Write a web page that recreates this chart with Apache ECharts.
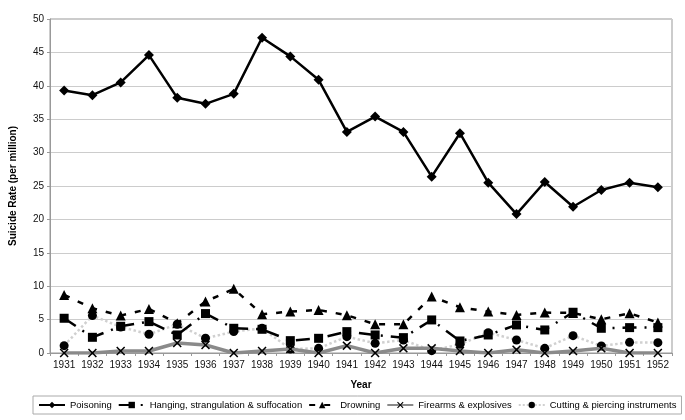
<!DOCTYPE html>
<html>
<head>
<meta charset="utf-8">
<script src="https://cdn.jsdelivr.net/npm/echarts@6/dist/echarts.min.js"></script>
<style>html,body{margin:0;padding:0;background:#fff;}#c{width:685px;height:420px;}</style>
</head>
<body>
<div id="c"></div>
<script>
const years = ['1931','1932','1933','1934','1935','1936','1937','1938','1939','1940','1941','1942','1943','1944','1945','1946','1947','1948','1949','1950','1951','1952'];
const poisoning = [39.3,38.6,40.5,44.6,38.2,37.3,38.8,47.2,44.4,40.9,33.1,35.4,33.1,26.4,32.9,25.5,20.8,25.6,21.9,24.4,25.5,24.8];
const hanging = [5.2,2.35,4.0,4.7,2.7,5.9,3.7,3.55,1.85,2.2,3.2,2.7,2.3,4.95,1.8,2.7,4.2,3.45,6.1,3.7,3.8,3.8];
const drowning = [8.7,6.7,5.6,6.6,4.45,7.7,9.6,5.8,6.2,6.45,5.65,4.3,4.3,8.45,6.85,6.2,5.7,6.05,6.0,5.05,5.95,4.55];
const firearms = [0,0,0.3,0.3,1.5,1.2,0,0.3,0.6,0,1.1,0,0.7,0.7,0.3,0,0.5,0,0.3,0.7,0,0];
const cutting = [1.1,5.6,3.9,2.8,4.3,2.2,3.2,3.7,0.6,0.7,2.45,1.45,1.95,0.35,1.3,3.05,1.95,0.7,2.6,1.05,1.6,1.55];
const seriesNames = ['Poisoning','Hanging, strangulation & suffocation','Drowning','Firearms & explosives','Cutting & piercing instruments'];
const yTicks = {min:0, max:50, interval:5};

const xSym = 'path://M0,1.2 L1.2,0 L5,3.8 L8.8,0 L10,1.2 L6.2,5 L10,8.8 L8.8,10 L5,6.2 L1.2,10 L0,8.8 L3.8,5 Z';
const font = 'Liberation Sans, Arial, sans-serif';

const chart = echarts.init(document.getElementById('c'));
chart.setOption({
  animation: false,
  backgroundColor: '#fff',
  textStyle: {fontFamily: font},
  grid: {left: 46, right: 13, top: 19, bottom: 67, show: true, borderColor: '#999', borderWidth: 1},
  xAxis: {
    type: 'category', data: years, boundaryGap: true,
    name: 'Year', nameLocation: 'middle', nameGap: 27,
    nameTextStyle: {fontFamily: font, fontSize: 10, fontWeight: 'bold', color: '#000'},
    axisLine: {lineStyle: {color: '#999'}},
    axisTick: {show: true, length: 3, lineStyle: {color: '#999'}},
    axisLabel: {fontFamily: font, fontSize: 10, color: '#111', margin: 7, interval: 0}
  },
  yAxis: {
    type: 'value', min: yTicks.min, max: yTicks.max, interval: yTicks.interval,
    name: 'Suicide Rate (per million)', nameLocation: 'middle', nameGap: 32,
    nameTextStyle: {fontFamily: font, fontSize: 10, fontWeight: 'bold', color: '#000'},
    axisLine: {show: true, lineStyle: {color: '#999'}},
    axisTick: {show: true, length: 3, lineStyle: {color: '#999'}},
    axisLabel: {fontFamily: font, fontSize: 10, color: '#111', margin: 6},
    splitLine: {lineStyle: {color: '#ccc'}}
  },
  legend: {
    data: seriesNames,
    left: 33, top: 396, width: 680,
    orient: 'horizontal',
    borderColor: '#aaa', borderWidth: 1, padding: [4, 5],
    itemWidth: 26, itemHeight: 8, itemGap: 6,
    textStyle: {fontFamily: font, fontSize: 9.5, color: '#000'}
  },
  series: [
    {name: seriesNames[4], type: 'line', data: cutting, symbol: 'circle', symbolSize: 9,
     itemStyle: {color: '#000'}, lineStyle: {color: '#d0d0d0', width: 2.5, type: 'dotted'}, z: 1},
    {name: seriesNames[3], type: 'line', data: firearms, symbol: xSym, symbolSize: 9,
     itemStyle: {color: '#000'}, lineStyle: {color: '#8a8a8a', width: 3.5}, z: 2},
    {name: seriesNames[2], type: 'line', data: drowning, symbol: 'triangle', symbolSize: 10,
     itemStyle: {color: '#000'}, lineStyle: {color: '#000', width: 2.5, type: [6, 9]}, z: 3},
    {name: seriesNames[1], type: 'line', data: hanging, symbol: 'rect', symbolSize: 9,
     itemStyle: {color: '#000'}, lineStyle: {color: '#000', width: 2.5, type: [14, 8, 2, 8]}, z: 4},
    {name: seriesNames[0], type: 'line', data: poisoning, symbol: 'diamond', symbolSize: 10,
     itemStyle: {color: '#000'}, lineStyle: {color: '#000', width: 2.5}, z: 5}
  ]
});
</script>
</body>
</html>
